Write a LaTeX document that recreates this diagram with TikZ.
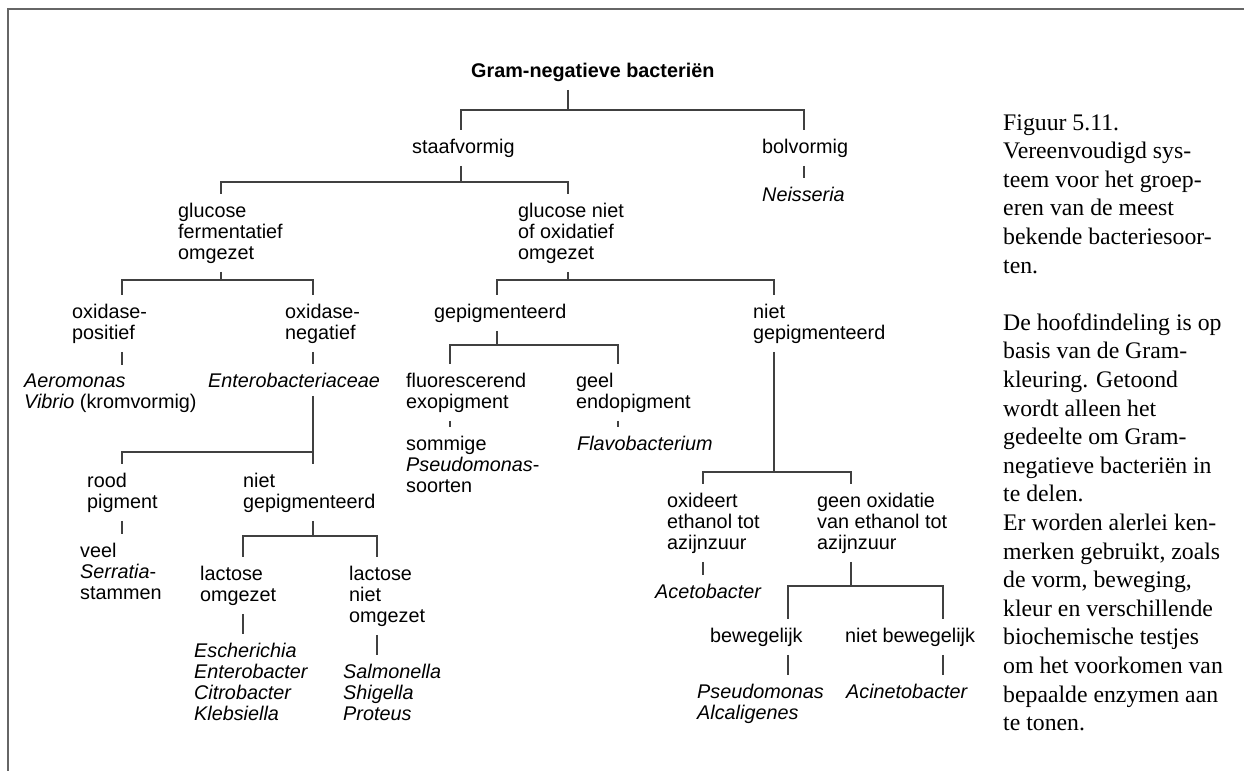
\documentclass[tikz,border=0pt]{standalone}
\usepackage{fontspec}
\setmainfont{Liberation Serif}
\newfontfamily\treefont{Liberation Sans}

\begin{document}
\begin{tikzpicture}[x=1pt, y=-1pt]
    % Styles (multi-line nodes sit on the baseline of their last line)
    \tikzstyle{taxon} = [anchor=base west, align=left, inner xsep=0pt, inner ysep=8.5pt, font=\treefont\fontsize{19.8}{21}\selectfont]
    \tikzstyle{link} = [line width=1.1pt, draw=black!75]
    \tikzstyle{frame} = [line width=1.4pt, draw=black!60]

    \useasboundingbox (0,0) rectangle (1244,771);
    \draw [frame] (1244,9) -- (8,9) -- (8,771);

    % Nodes
    \node (root) [taxon] at (471,77) {\bfseries Gram-negatieve bacteriën};
    \node (staaf) [taxon] at (412,153) {staafvormig};
    \node (bol) [taxon] at (762,153) {bolvormig};
    \node (neis) [taxon] at (762,201) {\textit{Neisseria}};
    \node (glucf) [taxon] at (178,259) {glucose\\fermentatief\\omgezet};
    \node (glucn) [taxon] at (518,259) {glucose niet\\of oxidatief\\omgezet};
    \node (oxpos) [taxon] at (72,339) {oxidase-\\positief};
    \node (oxneg) [taxon] at (285,339) {oxidase-\\negatief};
    \node (pigm) [taxon] at (434,318) {gepigmenteerd};
    \node (nopigm) [taxon] at (753,339) {niet\\gepigmenteerd};
    \node (aero) [taxon] at (24,408) {\textit{Aeromonas}\\\textit{Vibrio} (kromvormig)};
    \node (entero) [taxon] at (208,387) {\textit{Enterobacteriaceae}};
    \node (fluor) [taxon] at (406,408) {fluorescerend\\exopigment};
    \node (geel) [taxon] at (576,408) {geel\\endopigment};
    \node (pseudo) [taxon] at (406,492) {sommige\\\textit{Pseudomonas}-\\soorten};
    \node (flavo) [taxon] at (577,450) {\textit{Flavobacterium}};
    \node (rood) [taxon] at (87,508) {rood\\pigment};
    \node (entnopigm) [taxon] at (243,508) {niet\\gepigmenteerd};
    \node (oxeth) [taxon] at (667,549) {oxideert\\ethanol tot\\azijnzuur};
    \node (nooxeth) [taxon] at (817,549) {geen oxidatie\\van ethanol tot\\azijnzuur};
    \node (serr) [taxon] at (80,599) {veel\\\textit{Serratia}-\\stammen};
    \node (lacpos) [taxon] at (200,601) {lactose\\omgezet};
    \node (lacneg) [taxon] at (349,622) {lactose\\niet\\omgezet};
    \node (aceto) [taxon] at (655,598) {\textit{Acetobacter}};
    \node (mot) [taxon] at (710,642) {bewegelijk};
    \node (nomot) [taxon] at (845,642) {niet bewegelijk};
    \node (esch) [taxon] at (194,720) {\textit{Escherichia}\\\textit{Enterobacter}\\\textit{Citrobacter}\\\textit{Klebsiella}};
    \node (salm) [taxon] at (343,720) {\textit{Salmonella}\\\textit{Shigella}\\\textit{Proteus}};
    \node (pseu) [taxon] at (697,719) {\textit{Pseudomonas}\\\textit{Alcaligenes}};
    \node (acin) [taxon] at (846,698) {\textit{Acinetobacter}};

    % Branch points
    \coordinate (k0) at (568,110);  \coordinate (k0a) at (461,110); \coordinate (k0b) at (804,110);
    \coordinate (k1) at (461,182);  \coordinate (k1a) at (221,182); \coordinate (k1b) at (568,182);
    \coordinate (k2) at (221,280);  \coordinate (k2a) at (122,280); \coordinate (k2b) at (313,280);
    \coordinate (k3) at (568,280);  \coordinate (k3a) at (497,280); \coordinate (k3b) at (774,280);
    \coordinate (k4a) at (122,452); \coordinate (k4b) at (313,452);
    \coordinate (k5) at (313,536);  \coordinate (k5a) at (243,536); \coordinate (k5b) at (377,536);
    \coordinate (k6) at (497,345);  \coordinate (k6a) at (450,345); \coordinate (k6b) at (618,345);
    \coordinate (k7) at (774,472);  \coordinate (k7a) at (703,472); \coordinate (k7b) at (851,472);
    \coordinate (k8) at (851,586);  \coordinate (k8a) at (788,586); \coordinate (k8b) at (943,586);

    % Connectors
    \draw [link] (root.south -| k0) -- (k0);
    \draw [link] (staaf.north -| k0a) -- (k0a) -- (k0b) -- (bol.north -| k0b);
    \draw [link] (bol.south -| k0b) -- (neis.north -| k0b);

    \draw [link] (staaf.south -| k1) -- (k1);
    \draw [link] (glucf.north -| k1a) -- (k1a) -- (k1b) -- (glucn.north -| k1b);

    \draw [link] (glucf.south -| k2) -- (k2);
    \draw [link] (oxpos.north -| k2a) -- (k2a) -- (k2b) -- (oxneg.north -| k2b);
    \draw [link] (oxpos.south -| k2a) -- (aero.north -| k2a);
    \draw [link] (oxneg.south -| k2b) -- (entero.north -| k2b);

    \draw [link] (entero.south -| k4b) -- (entnopigm.north -| k4b);
    \draw [link] (k4b) -- (k4a) -- (rood.north -| k4a);
    \draw [link] (rood.south -| k4a) -- (serr.north -| k4a);

    \draw [link] (entnopigm.south -| k5) -- (k5);
    \draw [link] (lacpos.north -| k5a) -- (k5a) -- (k5b) -- (lacneg.north -| k5b);
    \draw [link] (lacpos.south -| k5a) -- (esch.north -| k5a);
    \draw [link] (lacneg.south -| k5b) -- (salm.north -| k5b);

    \draw [link] (glucn.south -| k3) -- (k3);
    \draw [link] (pigm.north -| k3a) -- (k3a) -- (k3b) -- (nopigm.north -| k3b);

    \draw [link] (pigm.south -| k6) -- (k6);
    \draw [link] (fluor.north -| k6a) -- (k6a) -- (k6b) -- (geel.north -| k6b);
    \draw [link] (fluor.south -| k6a) -- (pseudo.north -| k6a);
    \draw [link] (geel.south -| k6b) -- (flavo.north -| k6b);

    \draw [link] (nopigm.south -| k7) -- (k7);
    \draw [link] (oxeth.north -| k7a) -- (k7a) -- (k7b) -- (nooxeth.north -| k7b);
    \draw [link] (oxeth.south -| k7a) -- (aceto.north -| k7a);

    \draw [link] (nooxeth.south -| k8) -- (k8);
    \draw [link] (mot.north -| k8a) -- (k8a) -- (k8b) -- (nomot.north -| k8b);
    \draw [link] (mot.south -| k8a) -- (pseu.north -| k8a);
    \draw [link] (nomot.south -| k8b) -- (acin.north -| k8b);

    % Caption
    \node (caption) [anchor=base west, align=left, inner sep=0pt, font=\fontsize{23.75}{28.6}\selectfont] at (1003,730.6) {Figuur 5.11.\\Vereenvoudigd sys-\\teem voor het groep-\\eren van de meest\\bekende bacteriesoor-\\ten.\\[28.6pt]De hoofdindeling is op\\basis van de Gram-\\kleuring. Getoond\\wordt alleen het\\gedeelte om Gram-\\negatieve bacteriën in\\te delen.\\Er worden alerlei ken-\\merken gebruikt, zoals\\de vorm, beweging,\\kleur en verschillende\\biochemische testjes\\om het voorkomen van\\bepaalde enzymen aan\\te tonen.};
\end{tikzpicture}
\end{document}
